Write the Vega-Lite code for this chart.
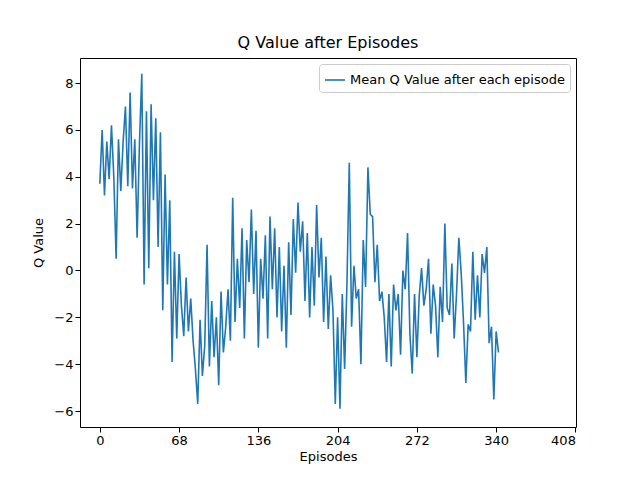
{"$schema":"https://vega.github.io/schema/vega-lite/v6.json","width":496,"height":369,"autosize":{"type":"none"},"padding":{"left":80,"top":58,"right":64,"bottom":53},
"title":{"text":"Q Value after Episodes","font":"DejaVu Sans","fontSize":16,"fontWeight":"normal","offset":7},
"config":{"view":{"stroke":"black"},"font":"DejaVu Sans","axis":{"grid":false,"domain":false,"tickColor":"black","tickSize":5,"labelColor":"black","titleColor":"black","labelFontSize":13,"titleFontSize":13,"titleFontWeight":"normal","labelFont":"DejaVu Sans","titleFont":"DejaVu Sans"}},
"data":{"values":[
{"e":0,"q":3.7},{"e":2,"q":6.0},{"e":4,"q":3.2},{"e":6,"q":5.5},{"e":8,"q":3.9},{"e":10,"q":6.2},{"e":12,"q":4.0},{"e":14,"q":0.5},{"e":16,"q":5.6},{"e":18,"q":3.4},{"e":20,"q":5.5},{"e":22,"q":7.0},{"e":24,"q":3.6},{"e":26,"q":7.6},{"e":28,"q":3.5},{"e":30,"q":5.6},{"e":32,"q":1.4},{"e":34,"q":5.4},{"e":36,"q":8.4},{"e":38,"q":-0.6},{"e":40,"q":6.8},
{"e":42,"q":0.1},{"e":44,"q":7.1},{"e":46,"q":3.0},{"e":48,"q":6.5},{"e":50,"q":1.0},{"e":52,"q":5.9},{"e":54,"q":-1.7},{"e":56,"q":4.1},{"e":58,"q":-0.6},{"e":60,"q":3.0},{"e":62,"q":-3.9},{"e":64,"q":0.8},{"e":66,"q":-2.9},{"e":68,"q":0.7},
{"e":70,"q":-1.5},{"e":72,"q":-2.8},{"e":74,"q":-0.3},{"e":76,"q":-2.6},{"e":78,"q":-1.2},{"e":80,"q":-3.0},{"e":82,"q":-4.2},{"e":84,"q":-5.7},{"e":86,"q":-2.1},{"e":88,"q":-4.5},{"e":90,"q":-3.2},{"e":92,"q":1.1},{"e":94,"q":-4.1},{"e":96,"q":-1.3},{"e":98,"q":-3.7},{"e":100,"q":-2.0},{"e":102,"q":-4.9},{"e":104,"q":-0.9},{"e":106,"q":-3.5},{"e":108,"q":-2.4},
{"e":110,"q":-0.8},{"e":112,"q":-3.0},{"e":114,"q":3.1},{"e":116,"q":-2.2},{"e":118,"q":0.5},{"e":120,"q":-1.6},{"e":122,"q":1.8},{"e":124,"q":-2.9},{"e":126,"q":1.3},{"e":128,"q":-0.5},{"e":130,"q":2.6},{"e":132,"q":-1.0},{"e":134,"q":1.7},{"e":136,"q":-3.3},{"e":138,"q":0.5},{"e":140,"q":-1.2},{"e":142,"q":1.5},{"e":144,"q":-2.9},{"e":146,"q":2.3},{"e":148,"q":-0.8},{"e":150,"q":1.8},{"e":152,"q":-2.0},{"e":154,"q":1.0},{"e":156,"q":-2.6},{"e":158,"q":0.2},{"e":160,"q":-3.3},{"e":162,"q":1.2},{"e":164,"q":-1.9},{"e":166,"q":2.2},{"e":168,"q":-0.1},{"e":170,"q":2.9},{"e":172,"q":0.8},{"e":174,"q":2.1},{"e":176,"q":-1.3},{"e":178,"q":1.6},{"e":180,"q":-2.0},{"e":182,"q":1.0},{"e":184,"q":-1.5},{"e":186,"q":2.8},{"e":188,"q":-0.3},{"e":190,"q":1.4},{"e":192,"q":-2.2},{"e":194,"q":0.6},{"e":196,"q":-2.5},{"e":198,"q":-0.2},
{"e":200,"q":-1.7},{"e":202,"q":-5.7},{"e":204,"q":-2.0},{"e":206,"q":-5.9},{"e":208,"q":-1.0},{"e":210,"q":-4.2},{"e":212,"q":-0.6},{"e":214,"q":4.6},{"e":216,"q":-2.4},{"e":218,"q":0.2},{"e":220,"q":-1.2},{"e":222,"q":-0.8},{"e":224,"q":-4.0},{"e":226,"q":1.3},{"e":228,"q":-0.7},{"e":230,"q":4.4},{"e":232,"q":2.4},{"e":234,"q":2.3},
{"e":236,"q":-0.5},{"e":238,"q":1.1},{"e":240,"q":-1.3},{"e":242,"q":-0.9},{"e":244,"q":-2.0},{"e":246,"q":-3.9},{"e":248,"q":-1.0},{"e":250,"q":-4.1},{"e":252,"q":-0.6},{"e":254,"q":-1.7},{"e":256,"q":-1.0},{"e":258,"q":-3.6},{"e":260,"q":0.0},{"e":262,"q":-0.8},{"e":264,"q":1.6},{"e":266,"q":-2.7},{"e":268,"q":-4.4},{"e":270,"q":-1.0},{"e":272,"q":-3.7},{"e":274,"q":-1.1},{"e":276,"q":0.1},{"e":278,"q":-1.5},{"e":280,"q":-0.8},{"e":282,"q":0.5},{"e":284,"q":-2.7},{"e":286,"q":-0.6},{"e":288,"q":-1.5},{"e":290,"q":-3.7},{"e":292,"q":-0.7},{"e":294,"q":-2.2},{"e":296,"q":2.0},{"e":298,"q":-1.6},{"e":300,"q":-1.9},{"e":302,"q":0.3},{"e":304,"q":-2.9},{"e":306,"q":-1.0},{"e":308,"q":1.4},{"e":310,"q":-0.1},{"e":312,"q":-2.2},{"e":314,"q":-4.8},{"e":316,"q":-2.3},{"e":318,"q":-2.6},{"e":320,"q":0.8},{"e":322,"q":-2.1},{"e":324,"q":-0.2},{"e":326,"q":-2.0},{"e":328,"q":0.7},{"e":330,"q":-0.1},{"e":332,"q":1.0},{"e":334,"q":-3.1},{"e":336,"q":-2.4},{"e":338,"q":-5.5},{"e":340,"q":-2.6},{"e":342,"q":-3.5}
]},
"transform":[{"calculate":"'Mean Q Value after each episode'","as":"s"}],
"mark":{"type":"line","strokeWidth":1.6,"clip":true},
"encoding":{
"x":{"field":"e","type":"quantitative","title":"Episodes","scale":{"domain":[-17,408.5],"nice":false,"zero":false},"axis":{"values":[0,68,136,204,272,340,408],"titlePadding":3}},
"y":{"field":"q","type":"quantitative","title":"Q Value","scale":{"domain":[-6.68,9.07],"nice":false,"zero":false},"axis":{"values":[-6,-4,-2,0,2,4,6,8],"titlePadding":8}},
"color":{"field":"s","type":"nominal","scale":{"range":["#1f77b4"]},"legend":{"title":null,"orient":"top-right","symbolType":"stroke","symbolStrokeWidth":1.6,"symbolSize":400,"labelFontSize":13,"labelLimit":0,"strokeColor":"#cccccc","fillColor":"white","padding":5,"cornerRadius":3,"offset":6}}
}}
